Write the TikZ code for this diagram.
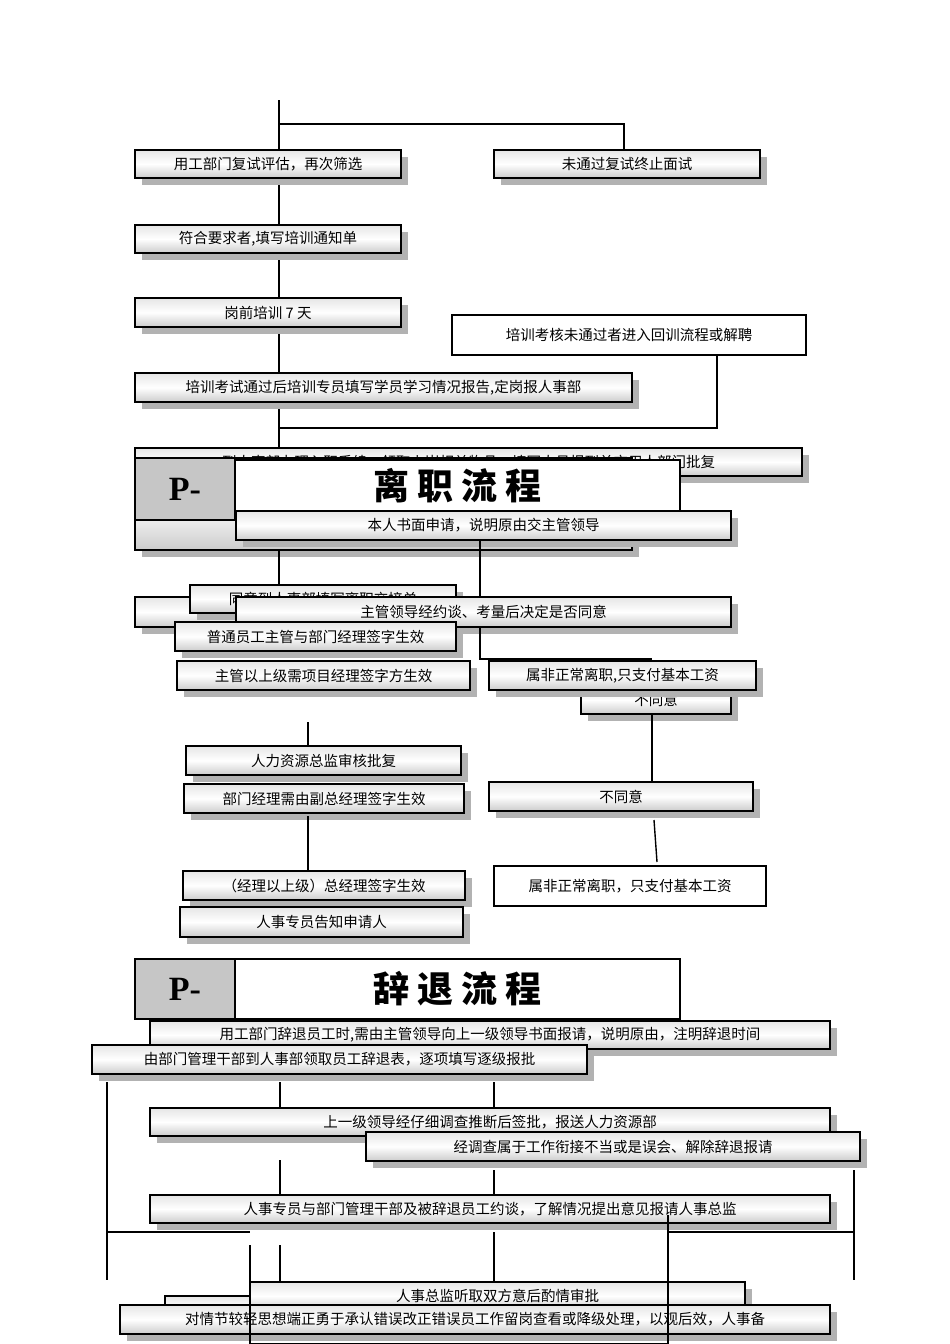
\documentclass[tikz,border=0pt]{standalone}
\usepackage{fontspec}
\setmainfont{Liberation Serif}
\newfontfamily\cjk{Noto Sans CJK SC}
\usetikzlibrary{shadows}
\tikzset{
 bx/.style={draw=black,line width=1.6pt,top color=gray!20,bottom color=gray!40,middle color=white,
   drop shadow={shadow xshift=7pt,shadow yshift=-7pt,fill=gray!60,opacity=1},
   font=\cjk\fontsize{14.5}{16}\selectfont,inner sep=0pt},
 plain/.style={draw=black,line width=1.4pt,fill=white,font=\cjk\fontsize{14.5}{16}\selectfont,inner sep=0pt},
 pbox/.style={draw=black,line width=1.6pt,fill=gray!45,font=\bfseries\fontsize{34}{36}\selectfont,inner sep=0pt},
 tbox/.style={draw=black,line width=1.6pt,fill=white,font=\cjk\bfseries\fontsize{36}{40}\selectfont,inner sep=0pt},
 ln/.style={line width=1.4pt}
}
\newcommand{\B}[7][bx]{\node[#1,minimum width=#5pt-#3pt,minimum height=#6pt-#4pt] (#2) at ({(#3+#5)/2},{(#4+#6)/2}) {#7};}
\begin{document}
\begin{tikzpicture}[x=1pt,y=-1pt]
\useasboundingbox[fill=white] (0,0) rectangle (950,1344);
% top section
\coordinate (t0) at (279,100); \coordinate (t1) at (279,124); \coordinate (t2) at (624,124);
\draw[ln] (t0) -- (279,150); \draw[ln] (t1) -- (t2) -- (624,150);
\draw[ln] (279,178) -- (279,225);
\draw[ln] (279,253) -- (279,298);
\draw[ln] (279,327) -- (279,448);
\draw[ln] (717,355) -- (717,428) -- (279,428);
\B{b1}{135}{150}{401}{178}{用工部门复试评估，再次筛选}
\B{b2}{494}{150}{760}{178}{未通过复试终止面试}
\B{b3}{135}{225}{401}{253}{符合要求者,填写培训通知单}
\B{b4}{135}{298}{401}{327}{岗前培训 7 天}
\B[plain]{b5}{452}{315}{806}{355}{培训考核未通过者进入回训流程或解聘}
\B{b6}{135}{373}{632}{402}{培训考试通过后培训专员填写学员学习情况报告,定岗报人事部}
\B{b7}{135}{448}{802}{476}{到人事部办理入职手续，领取上岗相关物品，填写人员报到单交用人部门批复}
% leave section
\B{f1}{135}{458}{632}{550}{}
\B[pbox]{p1}{135}{458}{235}{520}{P-}
\B[tbox]{t1b}{235}{460}{680}{512}{离 职 流 程}
\B{b8}{236}{511}{731}{540}{本人书面申请，说明原由交主管领导}
\draw[ln] (279,550) -- (279,590);
\draw[ln] (480,540) -- (480,597);
\B{f2}{135}{597}{300}{627}{}
\B{bh}{190}{585}{456}{613}{同意到人事部填写离职交接单}
\B{b9}{236}{597}{731}{627}{主管领导经约谈、考量后决定是否同意}
\B{b10}{175}{622}{456}{651}{普通员工主管与部门经理签字生效}
\draw[ln] (480,627) -- (480,659) -- (652,659);
\B{bn}{581}{686}{731}{714}{不同意}
\B{b11}{177}{661}{470}{690}{主管以上级需项目经理签字方生效}
\B{b12}{489}{661}{756}{690}{属非正常离职,只支付基本工资}
\draw[ln] (308,722) -- (308,745);
\draw[ln] (652,714) -- (652,782);
\B{b13}{186}{746}{461}{775}{人力资源总监审核批复}
\B{b14}{184}{784}{464}{813}{部门经理需由副总经理签字生效}
\B{b15}{489}{782}{753}{811}{不同意}
\draw[ln] (654,820) -- (657,862);
\draw[ln] (308,816) -- (308,870);
\B[plain]{b16}{494}{866}{766}{906}{属非正常离职，只支付基本工资}
\B{b17}{183}{871}{465}{900}{（经理以上级）总经理签字生效}
\B{b18}{180}{907}{463}{937}{人事专员告知申请人}
% dismissal section
\B[pbox]{p2}{135}{959}{235}{1019}{P-}
\B[tbox]{t2b}{235}{959}{680}{1019}{辞 退 流 程}
\B{b19}{150}{1021}{830}{1049}{用工部门辞退员工时,需由主管领导向上一级领导书面报请，说明原由，注明辞退时间}
\B{b20}{92}{1045}{587}{1074}{由部门管理干部到人事部领取员工辞退表，逐项填写逐级报批}
\draw[ln] (107,1082) -- (107,1280);
\draw[ln] (280,1082) -- (280,1108);
\draw[ln] (494,1082) -- (494,1108);
\B{b21}{150}{1108}{830}{1136}{上一级领导经仔细调查推断后签批，报送人力资源部}
\B{b22}{366}{1132}{860}{1161}{经调查属于工作衔接不当或是误会、解除辞退报请}
\draw[ln] (280,1160) -- (280,1195);
\draw[ln] (494,1170) -- (494,1195);
\draw[ln] (854,1170) -- (854,1280);
\B{b23}{150}{1195}{830}{1223}{人事专员与部门管理干部及被辞退员工约谈，了解情况提出意见报请人事总监}
\draw[ln] (107,1232) -- (250,1232);
\draw[ln] (668,1232) -- (854,1232);
\draw[ln] (494,1232) -- (494,1282);
\draw[ln] (280,1245) -- (280,1282);
\B{fs}{165}{1296}{260}{1320}{}
\B{b25}{250}{1282}{745}{1310}{人事总监听取双方意后酌情审批}
\B{b24}{120}{1305}{830}{1334}{对情节较轻思想端正勇于承认错误改正错误员工作留岗查看或降级处理，以观后效，人事备}
\draw[ln] (250,1245) -- (250,1344) -- (668,1344) -- (668,1215);
\end{tikzpicture}
\end{document}
